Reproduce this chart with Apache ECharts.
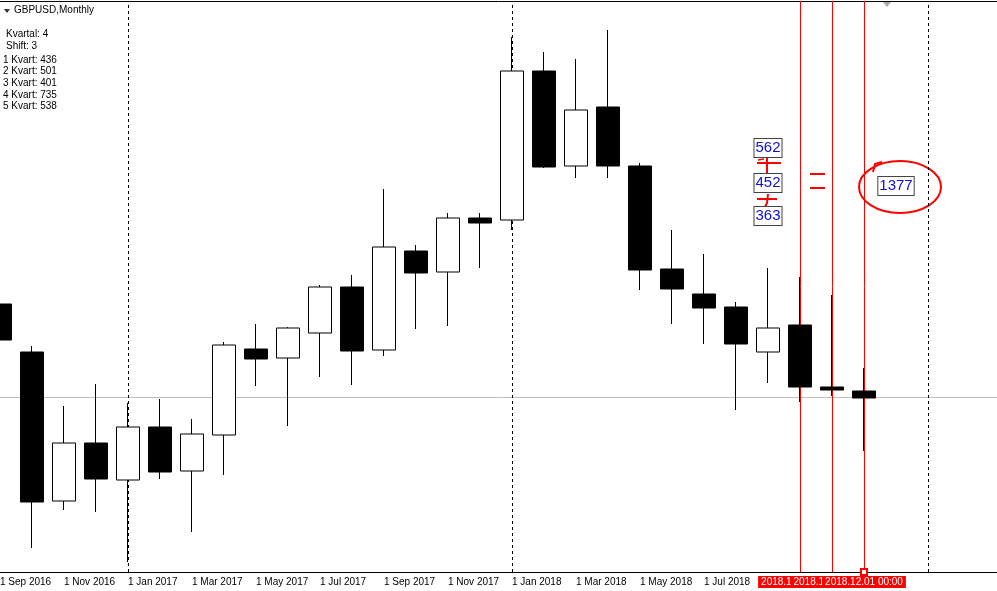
<!DOCTYPE html>
<html>
<head>
<meta charset="utf-8">
<script src="https://cdn.jsdelivr.net/npm/echarts@6/dist/echarts.min.js"></script>
<style>html,body{margin:0;padding:0;background:#fff;}#c{width:997px;height:591px;}</style>
</head>
<body>
<div id="c"></div>
<script>
// ---- data ----
const categories = ['Sep 2016','Oct 2016','Nov 2016','Dec 2016','Jan 2017','Feb 2017','Mar 2017','Apr 2017','May 2017','Jun 2017','Jul 2017','Aug 2017','Sep 2017','Oct 2017','Nov 2017','Dec 2017','Jan 2018','Feb 2018','Mar 2018','Apr 2018','May 2018','Jun 2018','Jul 2018','Aug 2018','Sep 2018','Oct 2018','Nov 2018','Dec 2018','Jan 2019','Feb 2019','Mar 2019','Apr 2019'];
const opens  = [1.3040,1.2800,1.2055,1.2345,1.2160,1.2425,1.2205,1.2385,1.2815,1.2770,1.2895,1.3125,1.2810,1.3305,1.3200,1.3470,1.3460,1.4205,1.3730,1.4025,1.3730,1.3215,1.3090,1.3025,1.2800,1.2935,1.2625,1.2605];
const closes = [1.2860,1.2050,1.2345,1.2165,1.2425,1.2200,1.2390,1.2835,1.2765,1.2920,1.3125,1.2805,1.3325,1.3195,1.3470,1.3445,1.4205,1.3725,1.4010,1.3730,1.3210,1.3115,1.3020,1.2840,1.2920,1.2625,1.2610,1.2570];
const lows   = [1.2860,1.1820,1.2010,1.2000,1.1750,1.2165,1.1900,1.2185,1.2630,1.2430,1.2675,1.2635,1.2780,1.2915,1.2930,1.3220,1.3410,1.3720,1.3670,1.3670,1.3110,1.2940,1.2840,1.2510,1.2645,1.2550,1.2580,1.2305];
const highs  = [1.3040,1.2830,1.2530,1.2640,1.2545,1.2565,1.2465,1.2850,1.2940,1.2925,1.3135,1.3185,1.3615,1.3335,1.3495,1.3495,1.4375,1.4300,1.4265,1.4410,1.3745,1.3410,1.3290,1.3050,1.3220,1.3175,1.3085,1.2720];
const tickLabels = ['1 Sep 2016','1 Nov 2016','1 Jan 2017','1 Mar 2017','1 May 2017','1 Jul 2017','1 Sep 2017','1 Nov 2017','1 Jan 2018','1 Mar 2018','1 May 2018','1 Jul 2018'];
const separatorMonths = ['Jan 2017','Jan 2018','Feb 2019'];
const markerMonths = ['Oct 2018','Nov 2018','Dec 2018'];
const markerLabels = ['2018.10.01 00:00','2018.11.01 00:00','2018.12.01 00:00'];
const bidPrice = 1.2575;
const chartTitle = 'GBPUSD,Monthly';
const infoLines = ['Kvartal: 4','Shift: 3','1 Kvart: 436','2 Kvart: 501','3 Kvart: 401','4 Kvart: 735','5 Kvart: 538'];
const annoValues = [562, 452, 363];
const annoSum = 1377;

// ---- build ----
const candleData = opens.map((o, i) => [o, closes[i], lows[i], highs[i]]);
const FONT = 'Liberation Sans';
const chart = echarts.init(document.getElementById('c'), null, {renderer: 'canvas'});

const boxLabel = {
  show: true, position: 'inside', color: '#1010d0', fontSize: 15, fontFamily: FONT,
  backgroundColor: '#fff', borderColor: '#444', borderWidth: 1, padding: [2, 1, 1, 1]
};
const annoCoords = [['Sep 2018', 1.3820], ['Sep 2018', 1.3645], ['Sep 2018', 1.3480]];

const infoIndent = [6, 6, 3, 3, 3, 3, 3];
const infoY = [34, 46, 60, 71, 83, 95, 106];
const graphics = [
  {type: 'line', shape: {x1: 0, y1: 1.5, x2: 997, y2: 1.5}, style: {stroke: '#000', lineWidth: 1}},
  {type: 'line', shape: {x1: 0, y1: 572.5, x2: 997, y2: 572.5}, style: {stroke: '#000', lineWidth: 1}},
  {type: 'polygon', shape: {points: [[4, 9], [10, 9], [7, 13]]}, style: {fill: '#333'}},
  {type: 'text', x: 14, y: 5, style: {text: chartTitle, font: '10px ' + FONT, fill: '#000'}},
  {type: 'polygon', shape: {points: [[883, 2], [891, 2], [887, 7]]}, style: {fill: '#aaa'}},
  // hand-drawn red marks
  {type: 'line', shape: {x1: 757, y1: 163, x2: 781, y2: 163}, style: {stroke: '#f00', lineWidth: 2}},
  {type: 'line', shape: {x1: 767, y1: 158, x2: 767, y2: 175}, style: {stroke: '#f00', lineWidth: 2}},
  {type: 'line', shape: {x1: 758, y1: 160, x2: 764, y2: 159}, style: {stroke: '#f00', lineWidth: 1.5}},
  {type: 'line', shape: {x1: 757, y1: 199, x2: 777, y2: 199}, style: {stroke: '#f00', lineWidth: 2}},
  {type: 'polyline', shape: {points: [[768, 194], [767, 203], [763, 211]]}, style: {stroke: '#f00', lineWidth: 2, fill: 'none'}},
  {type: 'line', shape: {x1: 810, y1: 174, x2: 825, y2: 174}, style: {stroke: '#f00', lineWidth: 2}},
  {type: 'line', shape: {x1: 810, y1: 188, x2: 825, y2: 188}, style: {stroke: '#f00', lineWidth: 2}},
  {type: 'ellipse', shape: {cx: 900, cy: 187, rx: 41, ry: 26}, style: {stroke: '#f00', lineWidth: 2, fill: 'none'}},
  {type: 'polyline', shape: {points: [[873, 172], [875, 164], [882, 162]]}, style: {stroke: '#f00', lineWidth: 2, fill: 'none'}}
];
infoLines.forEach((t, i) => {
  graphics.push({type: 'text', x: infoIndent[i], y: infoY[i] - 5, style: {text: t, font: '10px ' + FONT, fill: '#000'}});
});

const option = {
  animation: false,
  backgroundColor: '#fff',
  grid: {left: 0, right: 5, top: 1, bottom: 19, show: false, containLabel: false, outerBoundsMode: 'none'},
  xAxis: {
    type: 'category', data: categories, boundaryGap: false,
    axisLine: {show: true, lineStyle: {color: '#000', width: 1}},
    axisTick: {show: false}, splitLine: {show: false},
    axisLabel: {
      interval: 0, align: 'left', margin: 5, color: '#000', fontSize: 10, fontFamily: FONT,
      formatter: (v, idx) => (idx % 2 === 0 && idx / 2 < tickLabels.length) ? tickLabels[idx / 2] : ''
    }
  },
  yAxis: {type: 'value', min: 1.17, max: 1.4555, show: false, splitLine: {show: false}},
  graphic: graphics,
  series: [
    {
      type: 'line', data: [], z: 1, silent: true,
      markLine: {
        silent: true, symbol: 'none', animation: false, z: 1,
        data: [
          ...separatorMonths.map(m => ({xAxis: m, lineStyle: {color: '#000', width: 1, type: [3, 3]}, label: {show: false}})),
          ...markerMonths.map((m, i) => ({
            xAxis: m,
            symbol: i === 2 ? 'emptyRect' : 'none', symbolSize: 6,
            lineStyle: {color: '#ff0000', width: 1, type: 'solid'},
            label: {
              show: true, position: 'start', distance: 4, formatter: markerLabels[i],
              color: '#fff', backgroundColor: '#ff0000', fontSize: 10, fontFamily: FONT,
              padding: [1, 3, 1, 3]
            }
          }))
        ]
      }
    },
    {
      type: 'candlestick', data: candleData, z: 3, barWidth: 24,
      itemStyle: {color: '#fff', color0: '#000', borderColor: '#000', borderColor0: '#000', borderWidth: 1},
      markPoint: {
        symbol: 'rect', symbolSize: 1, itemStyle: {color: 'rgba(0,0,0,0)'}, silent: true, z: 6,
        data: [
          ...annoValues.map((v, i) => ({coord: annoCoords[i], value: v, label: Object.assign({}, boxLabel, {formatter: String(v)})})),
          {coord: ['Jan 2019', 1.3630], value: annoSum, label: Object.assign({}, boxLabel, {formatter: String(annoSum)})}
        ]
      }
    }
  ]
};
chart.setOption(option);
// bid line across the full window, positioned through the y scale
const bidY = Math.round(chart.convertToPixel({yAxisIndex: 0}, bidPrice)) + 0.5;
chart.setOption({graphic: graphics.concat([
  {type: 'line', z: 0, zlevel: 0, shape: {x1: 0, y1: bidY, x2: 997, y2: bidY}, style: {stroke: '#c0c0c0', lineWidth: 1}}
])});
</script>
</body>
</html>
